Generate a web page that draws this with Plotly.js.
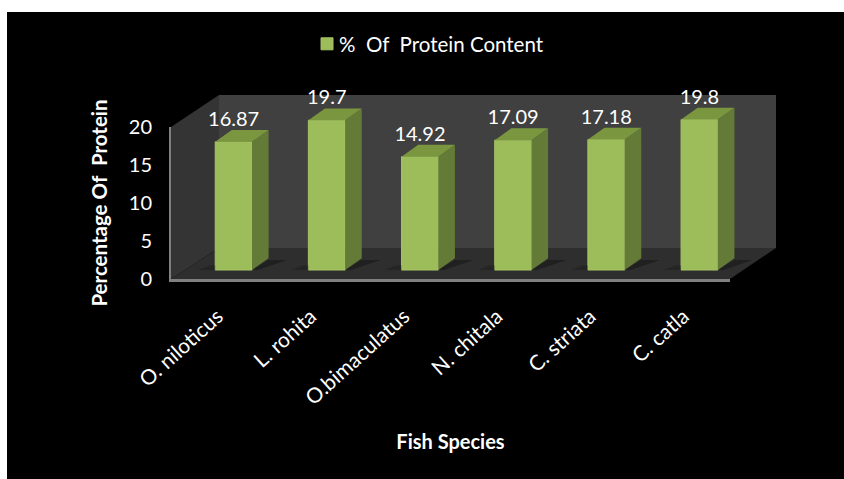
<!DOCTYPE html>
<html>
<head>
<meta charset="utf-8">
<script src="https://cdn.plot.ly/plotly-3.0.1.min.js"></script>
<style>
html,body{margin:0;padding:0;background:#fff;width:844px;height:479px;overflow:hidden}
#chart{position:absolute;left:7px;top:12px;width:837px;height:467px}
</style>
</head>
<body>
<div id="chart"></div>
<script>
const species = ["O. niloticus", "L. rohita", "O.bimaculatus", "N. chitala", "C. striata", "C. catla"];
const protein = [16.87, 19.7, 14.92, 17.09, 17.18, 19.8];
const yTicks = [0, 5, 10, 15, 20];
const seriesName = "%  Of  Protein Content";
const xTitle = "Fish Species";
const yTitle = "Percentage Of  Protein";

const font = "Lato, 'Open Sans', sans-serif";
const idx = species.map((_, i) => i);
// fake-3D depth, in axis units
const base = 1.18, barW = 0.395, shift = 0.172, dx = 0.178, dy = 1.55;
const left = i => i + shift - barW / 2, right = i => i + shift + barW / 2;

function polys(fn) { const X = [], Y = []; idx.forEach(i => { fn(i).forEach(p => { X.push(p[0]); Y.push(p[1]); }); X.push(null); Y.push(null); }); return { x: X, y: Y }; }
const face = (p, color) => ({ type: 'scatter', mode: 'lines', x: p.x, y: p.y, fill: 'toself', fillcolor: color, line: { width: 0, color: color }, hoverinfo: 'skip', showlegend: false });

const shadow = polys(i => [[right(i), base], [right(i) + dx, base + dy * 0.85], [right(i) + dx + 0.2, base + dy * 0.85], [right(i) + 0.06, base]]);
const shadowL = polys(i => [[left(i), base], [left(i) - 0.18, base], [left(i) - 0.06, base + 0.6], [left(i), base + 0.6]]);
const sides = polys(i => { const v = protein[i] + base; return [[right(i), base], [right(i) + dx, base + dy], [right(i) + dx, v + dy], [right(i), v]]; });
const tops = polys(i => { const v = protein[i] + base; return [[left(i), v], [left(i) + dx, v + dy], [right(i) + dx, v + dy], [right(i), v]]; });

const data = [
  { type: 'bar', name: seriesName, x: idx, y: protein, base: base, width: barW, offset: shift - barW / 2,
    marker: { color: '#9dbc5a', line: { color: '#a6c466', width: 1 } },
    customdata: species, hovertemplate: '%{customdata}: %{y}<extra></extra>' },
  face(shadowL, 'rgba(20,20,20,0.35)'),
  face(shadow, 'rgba(15,15,15,0.42)'),
  face(sides, '#647a37'),
  face(tops, '#7a963f'),
  { type: 'scatter', mode: 'text', x: idx.map(i => i + shift), y: protein.map(v => v + base + 2.75),
    text: protein.map(String), textposition: 'middle center', textfont: { color: '#fff', size: 20, family: font },
    hoverinfo: 'skip', showlegend: false, cliponaxis: false },
  { type: 'scatter', mode: 'markers', x: [0], y: [0], xaxis: 'x2', yaxis: 'y2', marker: { opacity: 0, size: 1 }, hoverinfo: 'skip', showlegend: false }
];

// plot area covers the whole box including walls; labelled axes cover its front face
const W = 605, H = 184, X0 = 171, Y0 = 279, frontW = 559, frontH = 152;
const fx = p => (p - X0) / W, fy = p => (Y0 - p) / H;
const poly = (pts, color) => ({ type: 'path', xref: 'paper', yref: 'paper', layer: 'below', fillcolor: color, line: { width: 0 },
  path: 'M' + pts.map(p => fx(p[0]) + ',' + fy(p[1])).join('L') + 'Z' });
const shapes = [
  poly([[219, 95], [776, 95], [776, 248], [219, 248]], '#404040'),
  poly([[171, 127], [219, 95], [219, 248], [171, 279]], '#343434'),
  poly([[171, 279], [219, 248], [776, 248], [730, 279]], '#2e2e2e')
];

const layout = {
  width: 837, height: 467, autosize: false,
  margin: { l: 164, r: 68, t: 83, b: 200, pad: 0 },
  paper_bgcolor: '#000', plot_bgcolor: 'rgba(0,0,0,0)',
  font: { family: font, color: '#fff' },
  shapes: shapes,
  bargap: 0,
  showlegend: true,
  legend: { orientation: 'h', x: 0.2116, y: 1.386, xanchor: 'left', yanchor: 'top', bgcolor: 'rgba(0,0,0,0)', font: { size: 20.5, color: '#fff', family: font }, itemwidth: 30 },
  xaxis: { domain: [0, 1], range: [-0.5, -0.5 + 6 * W / frontW], visible: false, fixedrange: true },
  yaxis: { domain: [0, 1], range: [0, 20 * H / frontH], visible: false, fixedrange: true },
  xaxis2: { anchor: 'y2', domain: [0, frontW / W], range: [-0.5, 5.5], tickmode: 'array', tickvals: idx, ticktext: species, tickangle: -42, ticks: '', showgrid: false, zeroline: false,
    showline: true, linecolor: '#808080', linewidth: 3, ticklabelstandoff: 14, tickfont: { size: 21, color: '#fff', family: font },
    title: { text: xTitle, font: { size: 20, color: '#fff', family: font, weight: 700 }, standoff: 27 } },
  yaxis2: { anchor: 'x2', domain: [0, frontH / H], range: [0, 20], tickmode: 'array', tickvals: yTicks, ticks: '', showgrid: false, zeroline: false,
    showline: true, linecolor: '#808080', linewidth: 2, ticklabelstandoff: 13, tickfont: { size: 20, color: '#fff', family: font },
    title: { text: yTitle, font: { size: 20.5, color: '#fff', family: font, weight: 700 }, standoff: 16 } }
};

Plotly.newPlot('chart', data, layout, { displayModeBar: false, staticPlot: true }).then(() => {
  document.querySelectorAll('#chart .legendsymbols').forEach(s => s.setAttribute('transform', 'translate(8,0)'));
});
</script>
</body>
</html>
